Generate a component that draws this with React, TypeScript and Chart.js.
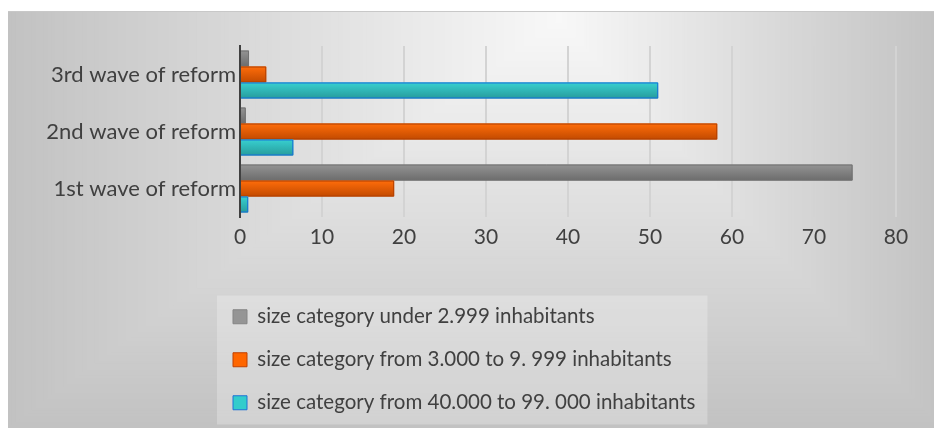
import React, { useEffect, useRef } from 'react';
import { Chart, registerables } from 'chart.js';

Chart.register(...registerables);

const categories = ['1st wave of reform', '2nd wave of reform', '3rd wave of reform'];
const seriesNames = [
  'size category under 2.999 inhabitants',
  'size category from 3.000 to 9. 999 inhabitants',
  'size category from 40.000 to 99. 000 inhabitants',
];
const under3000 = [74.7, 0.7, 1.1];
const from3000to9999 = [18.8, 58.2, 3.2];
const from40000to99000 = [1.0, 6.5, 51.0];
const xTickValues = [0, 10, 20, 30, 40, 50, 60, 70, 80];

const FONT = 'Lato';
const TEXT = '#404040';
const Y_FONT = 22;
const X_FONT = 21;
const LEGEND_FONT = 20.5;
const LEGEND_PAD = 22.5;
const LEGEND_MARKER_X = 225;

// [legend fill, legend border, bar top, bar bottom, bar border]
const seriesStyles = [
  ['#959595', '#858585', '#949494', '#6c6c6c', '#727272'],
  ['#ff6600', '#c04000', '#ff6d0a', '#c24a00', '#b34000'],
  ['#33cccc', '#1f72d6', '#38d0d0', '#279c9c', '#1670d8'],
];

const bgPlugin = {
  id: 'bgPlugin',
  beforeDraw(chart: any) {
    const { ctx, width, height } = chart;
    ctx.save();
    const cx = width * 0.59;
    const cy = 9;
    const steps = 140;
    for (let i = steps; i >= 0; i--) {
      const t = i / steps;
      const v = Math.round(248 - 54 * t);
      ctx.fillStyle = `rgb(${v},${v},${v})`;
      const l = cx - t * cx;
      const r = cx + t * (width - cx);
      const b = cy + t * (height - cy);
      ctx.fillRect(l, 0, r - l, b);
    }
    ctx.fillStyle = '#c8c8c8';
    ctx.fillRect(0, 0, width, 1);

    const lg = chart.legend;
    if (lg) {
      ctx.font = `${LEGEND_FONT}px ${FONT}`;
      let maxW = 0;
      seriesNames.forEach((s) => (maxW = Math.max(maxW, ctx.measureText(s).width)));
      const left = LEGEND_MARKER_X - 16;
      const right = LEGEND_MARKER_X + 14 + LEGEND_FONT / 2 + maxW + 12;
      const top = lg.top + LEGEND_PAD - 11;
      const bottom = top + 129;
      ctx.fillStyle = 'rgba(255,255,255,0.25)';
      ctx.fillRect(left, top, right - left, bottom - top);
    }
    ctx.restore();
  },
};

const legendShift = {
  id: 'legendShift',
  afterLayout(chart: any) {
    if (chart.legend) chart.legend.left = LEGEND_MARKER_X - LEGEND_PAD;
  },
};

const barShade = {
  id: 'barShade',
  afterDatasetsDraw(chart: any) {
    const ctx = chart.ctx;
    ctx.save();
    chart.data.datasets.forEach((_ds: any, di: number) => {
      const meta = chart.getDatasetMeta(di);
      const st = seriesStyles[di];
      meta.data.forEach((el: any) => {
        const { x, y, base, height } = el.getProps(['x', 'y', 'base', 'height'], true);
        const left = Math.min(x, base);
        const right = Math.max(x, base);
        const t = y - height / 2;
        const b = y + height / 2;
        const g = ctx.createLinearGradient(0, t, 0, b);
        g.addColorStop(0, st[2]);
        g.addColorStop(1, st[3]);
        ctx.fillStyle = g;
        ctx.fillRect(left, t, right - left, height);
        ctx.strokeStyle = st[4];
        ctx.lineWidth = 1;
        ctx.beginPath();
        ctx.moveTo(left, t + 0.5);
        ctx.lineTo(right - 0.5, t + 0.5);
        ctx.lineTo(right - 0.5, b - 0.5);
        ctx.lineTo(left, b - 0.5);
        ctx.stroke();
      });
    });
    ctx.restore();
  },
};

export default function App() {
  const ref = useRef<HTMLCanvasElement>(null);
  useEffect(() => {
    if (!ref.current) return;
    const seriesData = [under3000, from3000to9999, from40000to99000];
    const chart = new Chart(ref.current, {
      type: 'bar',
      data: {
        labels: categories,
        datasets: seriesNames.map((name, i) => ({
          label: name,
          data: seriesData[i],
          backgroundColor: seriesStyles[i][0],
          borderColor: seriesStyles[i][1],
          borderWidth: 1,
          categoryPercentage: 0.84,
          barPercentage: 1.0,
        })),
      },
      options: {
        indexAxis: 'y',
        responsive: false,
        animation: false,
        events: [],
        layout: { padding: { top: 35, right: 46, bottom: 5, left: 0 } },
        scales: {
          x: {
            type: 'linear',
            min: 0,
            max: 80,
            afterBuildTicks: (scale: any) => {
              scale.ticks = xTickValues.map((v) => ({ value: v }));
            },
            afterFit: (scale: any) => {
              scale.height = 67;
            },
            grid: {
              color: (c: any) => (c.tick && c.tick.value === 0 ? 'rgba(0,0,0,0)' : '#d3d3d3'),
              lineWidth: 2,
              drawTicks: false,
            },
            border: { display: false },
            ticks: {
              color: TEXT,
              font: { family: FONT, size: X_FONT },
              padding: 8,
              maxRotation: 0,
            },
          },
          y: {
            type: 'category',
            reverse: true,
            z: 1,
            afterFit: (scale: any) => {
              scale.width = 232;
            },
            grid: { display: false, drawTicks: false },
            border: { display: true, color: '#404040', width: 2 },
            ticks: {
              color: TEXT,
              font: { family: FONT, size: Y_FONT },
              padding: 4,
            },
          },
        },
        plugins: {
          legend: {
            position: 'bottom',
            fullSize: false,
            align: 'start',
            labels: {
              color: TEXT,
              font: { family: FONT, size: LEGEND_FONT },
              boxWidth: 14,
              boxHeight: 14,
              padding: LEGEND_PAD,
            },
          },
          tooltip: { enabled: false },
        },
      },
      plugins: [bgPlugin, legendShift, barShade],
    } as any);
    return () => chart.destroy();
  }, []);
  return (
    <div style={{ paddingTop: 3 }}>
      <canvas ref={ref} width={934} height={417} style={{ display: 'block' }} />
    </div>
  );
}
